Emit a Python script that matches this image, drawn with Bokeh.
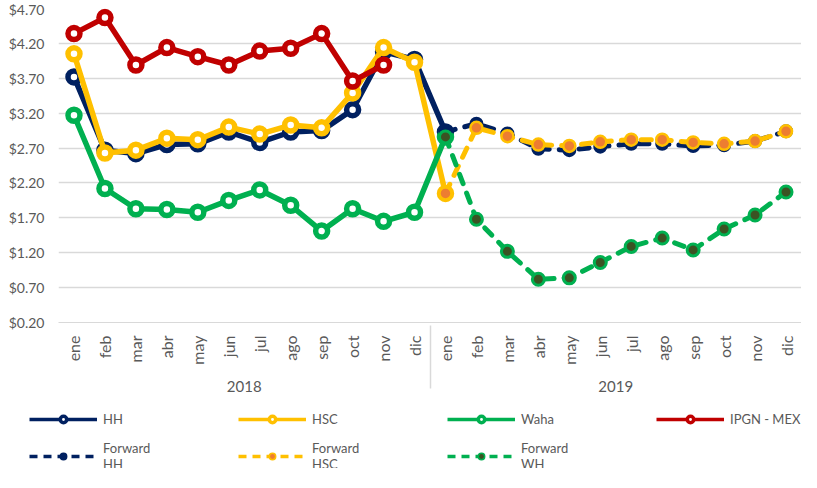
from bokeh.plotting import figure
from bokeh.layouts import column
from bokeh.models import (FactorRange, Range1d, FixedTicker, NumeralTickFormatter,
                          Legend, LegendItem, ColumnDataSource)
from bokeh.embed import file_html
from bokeh.resources import INLINE

months = ["ene", "feb", "mar", "abr", "may", "jun", "jul", "ago", "sep", "oct", "nov", "dic"]
years = ["2018", "2019"]
y_ticks = [0.2, 0.7, 1.2, 1.7, 2.2, 2.7, 3.2, 3.7, 4.2, 4.7]

# Actuals: ene 2018 .. ene 2019
hh = [3.72, 2.67, 2.62, 2.75, 2.76, 2.93, 2.78, 2.93, 2.95, 3.25, 4.08, 3.97, 2.93]
hsc = [4.05, 2.63, 2.67, 2.84, 2.82, 3.00, 2.90, 3.03, 2.99, 3.49, 4.14, 3.93, 2.05]
waha = [3.17, 2.12, 1.83, 1.82, 1.78, 1.95, 2.10, 1.88, 1.51, 1.83, 1.65, 1.78, 2.86]
ipgn = [4.34, 4.57, 3.89, 4.14, 4.01, 3.89, 4.09, 4.13, 4.34, 3.66, 3.89]
# Forwards: ene 2019 .. dic 2019
fwd_hh = [2.93, 3.05, 2.91, 2.69, 2.67, 2.72, 2.76, 2.76, 2.73, 2.74, 2.80, 2.94]
fwd_hsc = [2.05, 2.99, 2.87, 2.75, 2.73, 2.79, 2.82, 2.82, 2.78, 2.76, 2.80, 2.94]
fwd_wh = [2.86, 1.68, 1.22, 0.82, 0.84, 1.06, 1.29, 1.41, 1.24, 1.54, 1.74, 2.07]

labels = ["HH", "HSC", "Waha", "IPGN - MEX", "Forward\nHH", "Forward\nHSC", "Forward\nWH"]

factors = [(y, m) for y in years for m in months]

FONT = "Lato"
GRAY = "#595959"
NAVY = "#002060"
YELLOW = "#FFC000"
GREEN = "#00B050"
RED = "#C00000"
ORANGE = "#ED7D31"
DKGREEN = "#3B5323"

xr = FactorRange(*factors, group_padding=0, range_padding=0)

p = figure(width=801, height=394, output_backend="svg", toolbar_location=None,
           x_range=xr, y_range=Range1d(0.2, 4.7),
           min_border_left=58, min_border_right=0, min_border_top=8, min_border_bottom=71)
p.outline_line_color = None

p.yaxis.ticker = FixedTicker(ticks=y_ticks)
p.yaxis.formatter = NumeralTickFormatter(format="$0.00")
p.yaxis.axis_line_color = None
p.yaxis.major_tick_line_color = None
p.yaxis.minor_tick_line_color = None
p.yaxis.major_label_text_font = FONT
p.yaxis.major_label_text_font_size = "14px"
p.yaxis.major_label_text_color = GRAY
p.yaxis.major_label_standoff = 8

p.xaxis.axis_line_color = "#D9D9D9"
p.xaxis.major_tick_line_color = None
p.xaxis.major_tick_out = 0
p.xaxis.major_label_orientation = 1.5708
p.xaxis.major_label_text_font = FONT
p.xaxis.major_label_text_font_size = "16px"
p.xaxis.major_label_text_color = GRAY
p.xaxis.major_label_standoff = 13
p.xaxis.group_text_font = FONT
p.xaxis.group_text_font_size = "15px"
p.xaxis.group_text_font_style = "normal"
p.xaxis.group_text_color = GRAY
p.xaxis.separator_line_color = "#D9D9D9"
p.xaxis.separator_line_width = 1.5

p.xgrid.grid_line_color = None
p.ygrid.grid_line_color = "#D9D9D9"
p.ygrid.grid_line_width = 1.5

x_act = factors[:13]
x_ipgn = factors[:11]
x_fwd = factors[12:]

# legend strip below the chart
lp = figure(width=801, height=74, output_backend="svg", toolbar_location=None,
            x_range=xr, y_range=Range1d(-10, -9),
            min_border_left=0, min_border_right=0, min_border_top=0, min_border_bottom=0)
lp.axis.visible = False
lp.grid.visible = False
lp.outline_line_color = None
try:
    lp.frame_align = False
    p.frame_align = False
except Exception:
    pass


def solid(xs, ys, color):
    src = ColumnDataSource(dict(x=xs, y=ys))
    p.line("x", "y", source=src, line_color=color, line_width=5.5, line_join="round", line_cap="round")
    p.scatter("x", "y", source=src, size=12, fill_color="white", line_color=color, line_width=5.5)
    # legend sample (data lies outside the strip's visible range)
    l = lp.line("x", "y", source=src, line_color=color, line_width=3.5)
    s = lp.scatter("x", "y", source=src, size=7, fill_color="white", line_color=color, line_width=3.5)
    return [l, s]


def dashed(xs, ys, color, fill, outline, olw):
    src = ColumnDataSource(dict(x=xs, y=ys))
    p.line("x", "y", source=src, line_color=color, line_width=5, line_dash="10 10", line_cap="round")
    p.scatter("x", "y", source=src, size=12, fill_color=fill, line_color=outline, line_width=olw)
    l = lp.line("x", "y", source=src, line_color=color, line_width=3.5, line_dash="8 6")
    s = lp.scatter("x", "y", source=src, size=10, fill_color=fill, line_color=outline, line_width=1.5)
    return [l, s]


rends = [
    solid(x_act, hh, NAVY),
    solid(x_act, hsc, YELLOW),
    solid(x_act, waha, GREEN),
    solid(x_ipgn, ipgn, RED),
    dashed(x_fwd, fwd_hh, NAVY, NAVY, NAVY, 2),
    dashed(x_fwd, fwd_hsc, YELLOW, ORANGE, YELLOW, 2.5),
    dashed(x_fwd, fwd_wh, GREEN, DKGREEN, GREEN, 3),
]

legend = Legend(items=[LegendItem(label=lab, renderers=r) for lab, r in zip(labels, rends)],
                orientation="horizontal", ncols=4, location=(29, -4),
                glyph_width=68, glyph_height=16, label_standoff=6, label_width=122, label_height=16,
                spacing=13, padding=0, margin=0, border_line_color=None, background_fill_alpha=0,
                label_text_font=FONT, label_text_font_size="13px", label_text_color=GRAY)
lp.add_layout(legend, "center")

open("out.html", "w").write(file_html(column(p, lp, spacing=0), INLINE))
